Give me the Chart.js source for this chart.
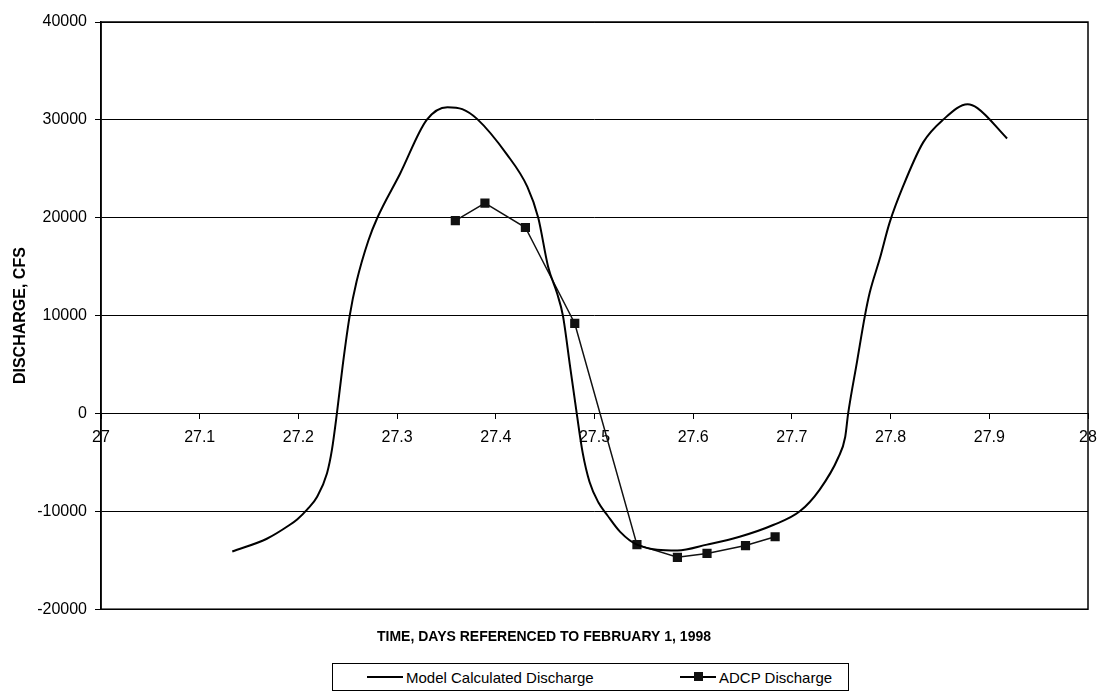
<!DOCTYPE html>
<html>
<head>
<meta charset="utf-8">
<script src="https://cdn.jsdelivr.net/npm/chart.js@4"></script>
<style>
  body { margin: 0; background: #fff; font-family: "Liberation Sans", Arial, sans-serif; }
  #wrap { position: relative; width: 1100px; height: 698px; }
  #legend {
    position: absolute; left: 332px; top: 663px; width: 515px; height: 26px;
    border: 1px solid #000; background: #fff; font-size: 15px; color: #000;
  }
  .item { position: absolute; top: 0; height: 26px; display: flex; align-items: center; }
  .ln { display: inline-block; width: 36px; height: 2px; background: #000; margin-right: 3px; position: relative; }
  .ln.thin { height: 1.5px; }
  .sq { position: absolute; left: 14px; top: -4px; width: 9px; height: 9px; background: #111; }
</style>
</head>
<body>
<div id="wrap">
  <canvas id="chart" width="1100" height="698"></canvas>
  <div id="legend">
    <div class="item" style="left:34px"><span class="ln"></span>Model Calculated Discharge</div>
    <div class="item" style="left:347px"><span class="ln thin"><span class="sq"></span></span>ADCP Discharge</div>
  </div>
</div>
<script>
// Model curve
const modelX = [27.133, 27.168, 27.191, 27.199, 27.209, 27.219, 27.229, 27.234, 27.239, 27.245,
  27.252, 27.259, 27.271, 27.280, 27.303, 27.330, 27.351, 27.366, 27.381, 27.411, 27.432,
  27.443, 27.453, 27.462, 27.468, 27.475, 27.482, 27.488, 27.495, 27.504, 27.513,
  27.526, 27.543, 27.584, 27.614, 27.647, 27.681, 27.708, 27.728, 27.747, 27.754,
  27.757, 27.766, 27.774, 27.779, 27.789, 27.799, 27.813, 27.833, 27.853, 27.878,
  27.888, 27.918];
const modelY = [-14100, -12800, -11400, -10800, -9800, -8500, -6100, -3700, 0, 5000,
  10000, 13500, 17700, 20000, 24500, 30000, 31300, 31100, 30100, 26500, 23150,
  20000, 15000, 12300, 10000, 5000, 0, -4000, -7000, -9100, -10400,
  -12100, -13400, -14000, -13400, -12600, -11400, -10000, -7800, -4500, -2400,
  0, 5300, 10000, 12400, 15800, 19500, 23300, 27700, 30000, 31600,
  31200, 28100];

// ADCP measurements
const adcpX = [27.359, 27.389, 27.430, 27.480, 27.543, 27.584, 27.614, 27.653, 27.683];
const adcpY = [19700, 21500, 19000, 9200, -13400, -14700, -14300, -13500, -12600];

const seriesNames = ["Model Calculated Discharge", "ADCP Discharge"];
const xTitle = "TIME, DAYS REFERENCED TO FEBRUARY 1, 1998";
const yTitle = "DISCHARGE, CFS";

const FONT = "'Liberation Sans', Arial, sans-serif";

// plot frame (right edge of the box)
const frame = {
  id: "frame",
  afterDatasetsDraw(chart) {
    const a = chart.chartArea, ctx = chart.ctx;
    ctx.save();
    ctx.strokeStyle = "#000";
    ctx.lineWidth = 1.5;
    ctx.strokeRect(a.left, a.top, a.right - a.left, a.bottom - a.top);
    ctx.restore();
  }
};

new Chart(document.getElementById("chart"), {
  type: "line",
  data: {
    datasets: [{
      label: seriesNames[0],
      data: modelX.map((x, i) => ({ x: x, y: modelY[i] })),
      borderColor: "#000",
      borderWidth: 2,
      pointRadius: 0,
      cubicInterpolationMode: "monotone"
    }, {
      label: seriesNames[1],
      data: adcpX.map((x, i) => ({ x: x, y: adcpY[i] })),
      borderColor: "#111",
      borderWidth: 1.5,
      pointStyle: "rect",
      pointRadius: 6.5,
      pointBackgroundColor: "#111",
      pointBorderColor: "#111",
      pointBorderWidth: 0,
      tension: 0
    }]
  },
  options: {
    responsive: false,
    animation: false,
    layout: { padding: { left: 0, right: 12, top: 22, bottom: 52 } },
    plugins: {
      legend: { display: false },
      tooltip: { enabled: false },
      title: {
        display: true,
        position: "bottom",
        text: xTitle,
        color: "#000",
        font: { family: FONT, size: 14, weight: "bold" },
        padding: { top: 20, bottom: 0 }
      }
    },
    scales: {
      x: {
        type: "linear",
        position: { y: 0 },
        min: 27,
        max: 28,
        afterFit(scale) { scale.paddingLeft = 0; scale.paddingRight = 0; },
        ticks: {
          stepSize: 0.1,
          autoSkip: false,
          maxRotation: 0,
          padding: 10,
          color: "#000",
          font: { family: FONT, size: 16 },
          callback: v => String(+v.toFixed(1))
        },
        grid: { drawOnChartArea: false, drawTicks: true, tickLength: 5, color: "#000" },
        border: { display: true, color: "#000", width: 1 }
      },
      y: {
        min: -20000,
        max: 40000,
        afterFit(scale) { scale.width = 101; },
        ticks: {
          stepSize: 10000,
          padding: 8,
          color: "#000",
          font: { family: FONT, size: 16 },
          callback: v => String(v)
        },
        grid: { color: "#000", lineWidth: 1, tickLength: 6 },
        border: { display: true, color: "#000", width: 1.5 },
        title: {
          display: true,
          text: yTitle,
          color: "#000",
          font: { family: FONT, size: 16, weight: "bold" },
          padding: { top: 11, bottom: 0 }
        }
      }
    }
  },
  plugins: [frame]
});
</script>
</body>
</html>
